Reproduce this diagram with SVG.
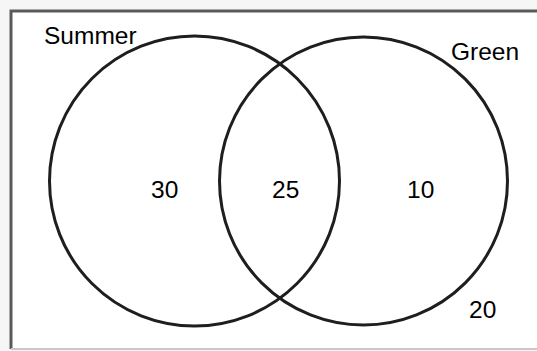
<svg xmlns="http://www.w3.org/2000/svg" width="537" height="351" viewBox="0 0 537 351">
<style>
.ring{fill:none;stroke:#1e1e1e;stroke-width:3}
.lbl{font-family:"Liberation Sans",Arial,sans-serif;font-size:24.5px;fill:#000}
</style>
<rect x="0" y="0" width="537" height="351" fill="#f6f6f6"/>
<rect x="11" y="11" width="540" height="338" fill="#ffffff"/>
<path d="M11,349 V11 H537" fill="none" stroke="#5a5a5a" stroke-width="3"/>
<path d="M11,349 H537" fill="none" stroke="#c8c8c8" stroke-width="2"/>
<g id="summer">
<circle class="ring" cx="194.5" cy="181" r="145"/>
<text class="lbl" x="44" y="44">Summer</text>
</g>
<g id="green">
<circle class="ring" cx="363.5" cy="181" r="144"/>
<text class="lbl" x="451" y="60">Green</text>
</g>
<g id="counts">
<text class="lbl" x="151" y="198">30</text>
<text class="lbl" x="272" y="198">25</text>
<text class="lbl" x="407" y="198">10</text>
<text class="lbl" x="469" y="318">20</text>
</g>
</svg>
